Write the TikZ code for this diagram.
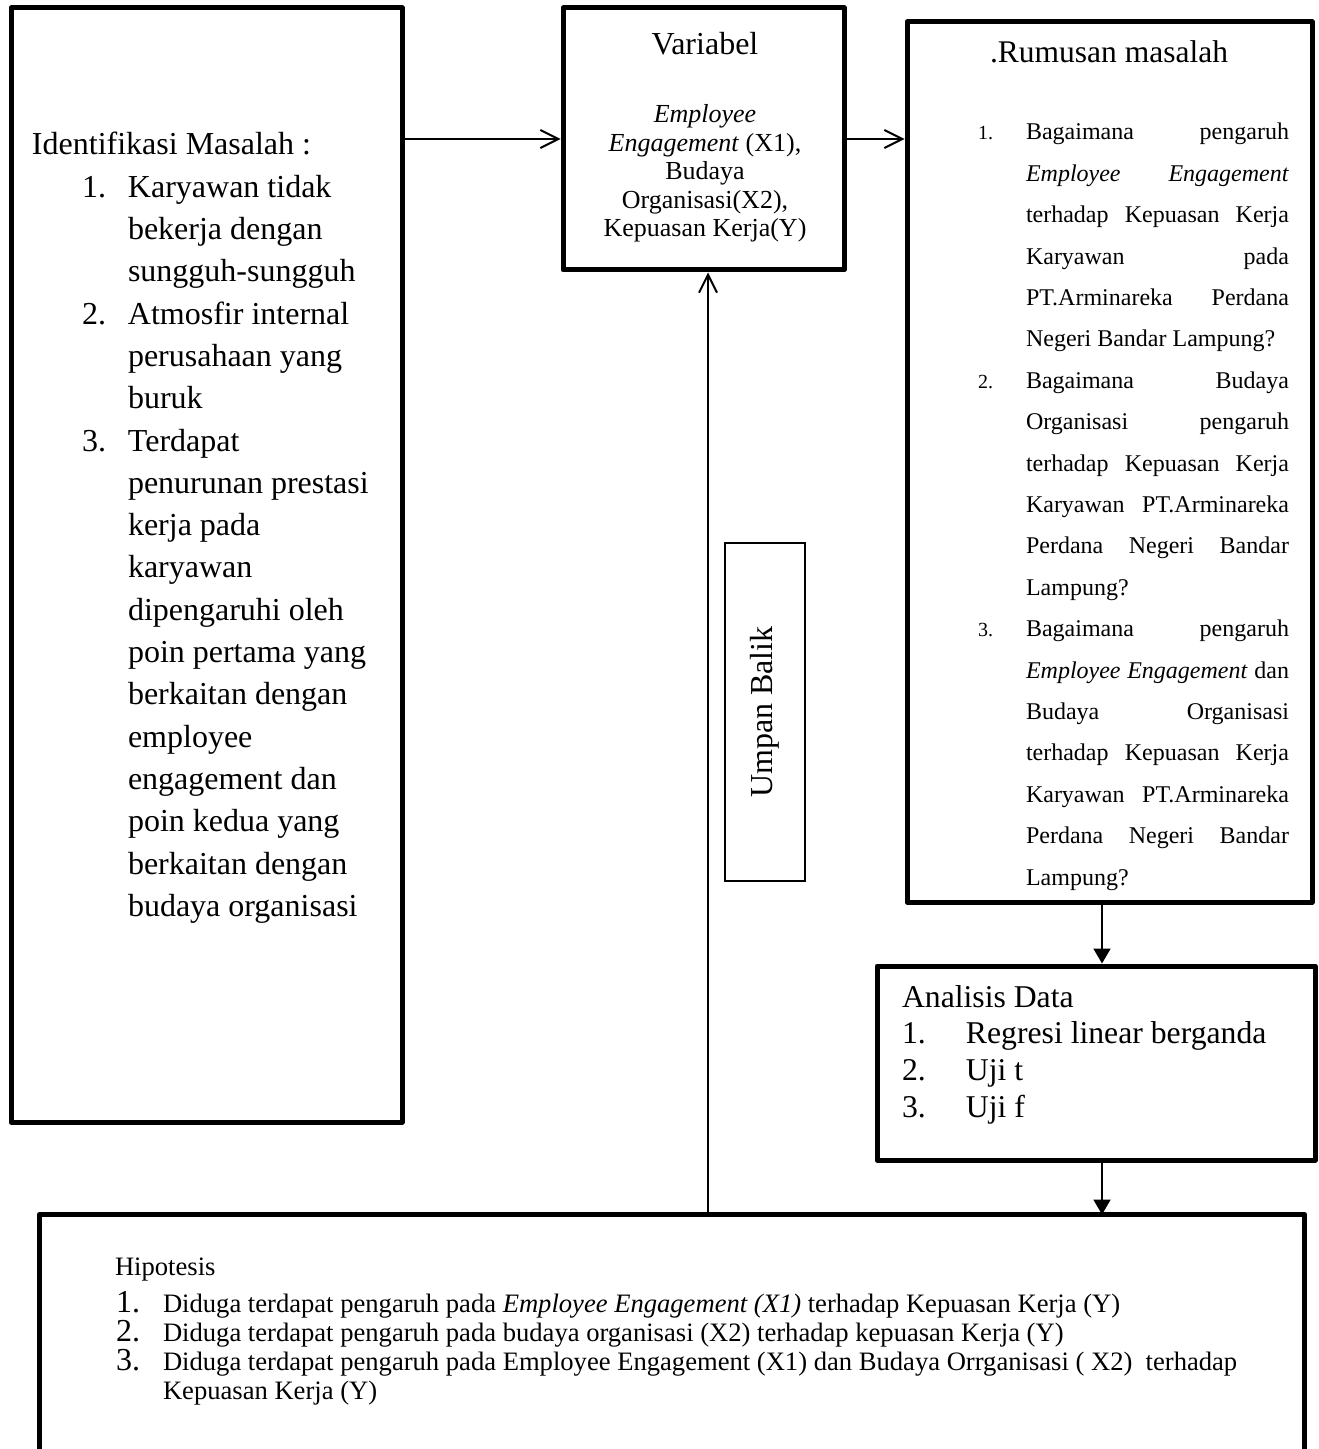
\documentclass[tikz,border=0pt]{standalone}
\usepackage{fontspec}
\setmainfont{Liberation Serif}
\usetikzlibrary{arrows.meta}
\newcommand\rnum[1]{\makebox[24pt][l]{\fontsize{10}{10}\selectfont #1}}
\newcommand\rind{\hspace*{24pt}}
\newcommand\rjust[1]{\makebox[131.5pt][s]{#1}}
\newcommand\lnum[1]{\hspace*{25pt}\makebox[23pt][l]{#1}}
\newcommand\lind{\hspace*{48pt}}
\newcommand\anum[1]{\makebox[32pt][l]{#1}}
\newcommand\hnum[1]{\makebox[23.5pt][l]{\fontsize{16}{16}\selectfont #1}}
\begin{document}
\begin{tikzpicture}[x=0.5pt,y=-0.5pt,
  thickbox/.style={draw, line width=2.5pt, line join=round, rectangle, inner sep=0pt},
  thinbox/.style={draw, line width=1pt, rectangle, inner sep=0pt},
  txt/.style={inner sep=0pt, outer sep=0pt, anchor=base west},
  openarrow/.style={line width=1pt, -{Straight Barb[length=9pt,width=9pt]}},
  filledarrow/.style={line width=1pt, -{Triangle[length=7.5pt,width=8.5pt]}},
]
\fill[white] (0,0) rectangle (1318,1449);
\useasboundingbox (0,0) rectangle (1318,1449);

% boxes
\node[thickbox, minimum width=195.5pt, minimum height=557pt] (ident) at (206.5,565) {};
\node[thickbox, minimum width=140.5pt, minimum height=131pt] (var) at (703.5,139) {};
\node[thickbox, minimum width=202.5pt, minimum height=440pt] (rum) at (1109.5,462) {};
\node[thickbox, minimum width=219pt, minimum height=97pt] (ana) at (1096,1063) {};
\node[draw=none, minimum width=630pt, minimum height=116pt, inner sep=0pt, outer sep=1.25pt] (hip) at (672,1333) {};
\draw[line width=2.5pt, line join=round] (hip.south west) -- (hip.north west) -- (hip.north east) -- (hip.south east);
\node[thinbox, rotate=90, minimum width=169pt, minimum height=40pt, font=\fontsize{16}{16}\selectfont] (ub) at (765,712) {Umpan Balik};

% left text
\node[txt, font=\fontsize{16}{21.15}\selectfont] (idtext) at (32,155) {\parbox[t]{185pt}{%
Identifikasi Masalah :\\
\lnum{1.}Karyawan tidak\\
\lind bekerja dengan\\
\lind sungguh-sungguh\\
\lnum{2.}Atmosfir internal\\
\lind perusahaan yang\\
\lind buruk\\
\lnum{3.}Terdapat\\
\lind penurunan prestasi\\
\lind kerja pada\\
\lind karyawan\\
\lind dipengaruhi oleh\\
\lind poin pertama yang\\
\lind berkaitan dengan\\
\lind employee\\
\lind engagement dan\\
\lind poin kedua yang\\
\lind berkaitan dengan\\
\lind budaya organisasi}};

% variabel text
\node[inner sep=0pt, anchor=base, font=\fontsize{16}{16}\selectfont] (vartitle) at (705,55) {Variabel};
\node[inner sep=0pt, anchor=base, font=\fontsize{13}{14.25}\selectfont] (vartext) at (705,123) {\parbox[t]{135pt}{\centering
\textit{Employee}\\
\textit{Engagement} (X1),\\
Budaya\\
Organisasi(X2),\\
Kepuasan Kerja(Y)}};

% rumusan text
\node[txt, font=\fontsize{15.75}{16}\selectfont] (rumtitle) at (990,63) {.Rumusan masalah};
\node[txt, font=\fontsize{12}{20.7}\selectfont] (rumtext) at (978,140) {\parbox[t]{160pt}{%
\rnum{1.}\rjust{Bagaimana pengaruh}\\
\rind\rjust{\textit{Employee Engagement}}\\
\rind\rjust{terhadap Kepuasan Kerja}\\
\rind\rjust{Karyawan pada}\\
\rind\rjust{PT.Arminareka Perdana}\\
\rind Negeri Bandar Lampung?\\
\rnum{2.}\rjust{Bagaimana Budaya}\\
\rind\rjust{Organisasi pengaruh}\\
\rind\rjust{terhadap Kepuasan Kerja}\\
\rind\rjust{Karyawan PT.Arminareka}\\
\rind\rjust{Perdana Negeri Bandar}\\
\rind Lampung?\\
\rnum{3.}\rjust{Bagaimana pengaruh}\\
\rind\rjust{\textit{Employee Engagement} dan}\\
\rind\rjust{Budaya Organisasi}\\
\rind\rjust{terhadap Kepuasan Kerja}\\
\rind\rjust{Karyawan PT.Arminareka}\\
\rind\rjust{Perdana Negeri Bandar}\\
\rind Lampung?}};

% analisis text
\node[txt, font=\fontsize{15.85}{18.35}\selectfont] (anatext) at (902,1007) {\parbox[t]{200pt}{%
Analisis Data\\
\anum{1.}Regresi linear berganda\\
\anum{2.}Uji t\\
\anum{3.}Uji f}};

% hipotesis text
\node[txt, font=\fontsize{13.3}{14}\selectfont] (hiptitle) at (115,1275) {Hipotesis};
\node[txt, font=\fontsize{13.3}{14.6}\selectfont] (hiptext) at (116,1312) {\parbox[t]{590pt}{%
\hnum{1.}Diduga terdapat pengaruh pada \textit{Employee Engagement (X1)} terhadap Kepuasan Kerja (Y)\\
\hnum{2.}Diduga terdapat pengaruh pada budaya organisasi (X2) terhadap kepuasan Kerja (Y)\\
\hnum{3.}Diduga terdapat pengaruh pada Employee Engagement (X1) dan Budaya Orrganisasi ( X2)~ terhadap\\
\hspace*{23.5pt}Kepuasan Kerja (Y)}};

% connectors
\coordinate (fbx) at (708,0);
\coordinate (dnx) at (1102,0);
\draw[openarrow] (ident.east |- var.west) -- (var.west);
\draw[openarrow] (var.east) -- (rum.west |- var.east);
\draw[filledarrow] (rum.south -| dnx) -- (ana.north -| dnx);
\draw[filledarrow] (ana.south -| dnx) -- (hip.north -| dnx);
\draw[openarrow] (hip.north -| fbx) -- (var.south -| fbx);
\end{tikzpicture}
\end{document}
